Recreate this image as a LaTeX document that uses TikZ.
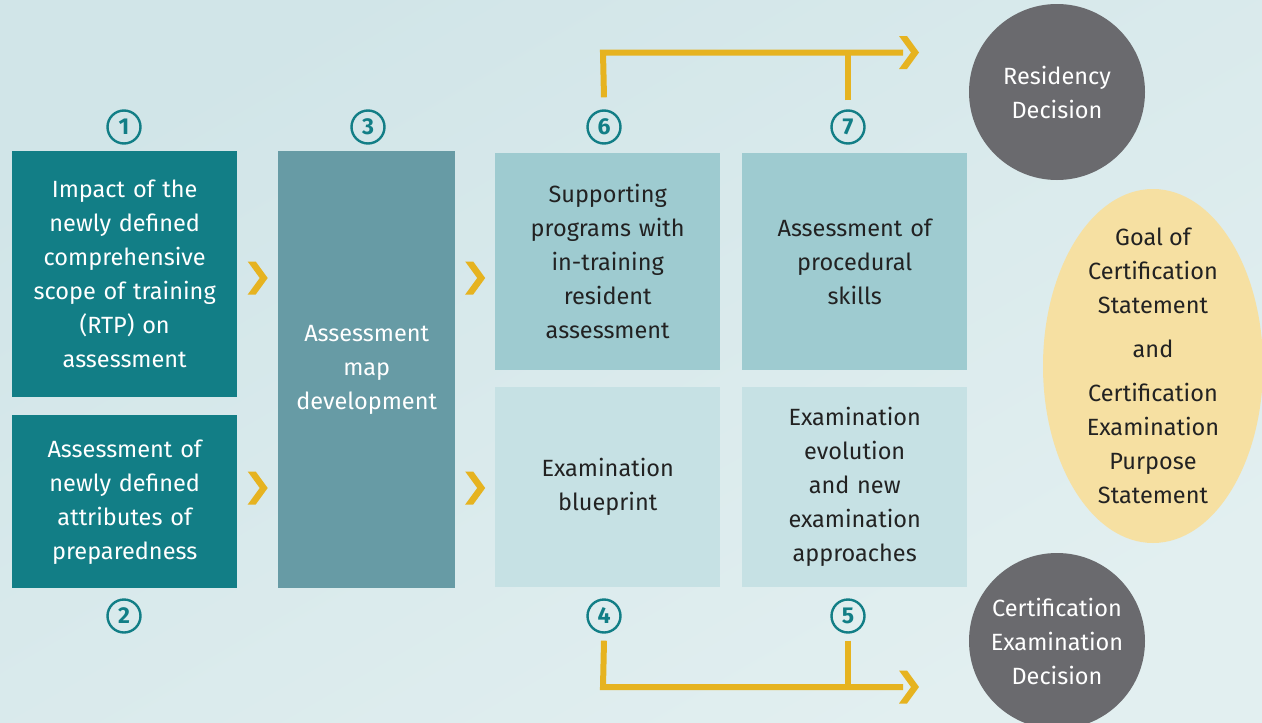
\documentclass[tikz,border=0pt]{standalone}
\usepackage{fontspec}
\setmainfont{Fira Sans}
\usetikzlibrary{calc,shapes.geometric}
\definecolor{bgA}{HTML}{D1E5E8}
\definecolor{bgB}{HTML}{E2EFF0}
\definecolor{tealD}{HTML}{127E86}
\definecolor{tealM}{HTML}{679BA5}
\definecolor{tealL}{HTML}{9ECBD0}
\definecolor{tealXL}{HTML}{C6E1E4}
\definecolor{gold}{HTML}{E6B320}
\definecolor{greyC}{HTML}{6A6A6E}
\definecolor{sand}{HTML}{F6E0A2}
\definecolor{txt}{HTML}{222222}
\tikzset{
  x=1pt,y=-1pt,
  boxbase/.style={anchor=north west,inner sep=0pt,align=center,font=\fontsize{23.5}{34}\selectfont},
  darkbox/.style={boxbase,fill=tealD,text=white},
  midbox/.style={boxbase,fill=tealM,text=white},
  lightbox/.style={boxbase,fill=tealL,text=txt},
  paleshbox/.style={boxbase,fill=tealXL,text=txt},
  numc/.style={circle,draw=tealD,line width=2.4pt,minimum size=33pt,inner sep=0pt,text=tealD,font=\fontsize{23}{23}\selectfont\bfseries},
  greyball/.style={circle,fill=greyC,minimum size=176pt,inner sep=0pt,text=white,align=center,font=\fontsize{23.5}{34}\selectfont},
  goldline/.style={draw=gold,line width=6pt},
}
\newcommand{\chev}[1]{\fill[gold] ($(#1)+(-10,-16.5)$) -- ($(#1)+(-2,-16.5)$) -- ($(#1)+(10,0)$) -- ($(#1)+(-2,16.5)$) -- ($(#1)+(-10,16.5)$) -- ($(#1)+(2,0)$) -- cycle;}
\begin{document}
\begin{tikzpicture}
\shade[top color=bgA,bottom color=bgB,shading angle=30] (0,0) rectangle (1262,723);
\useasboundingbox (0,0) rectangle (1262,723);
% boxes
\node[darkbox,minimum width=225pt,minimum height=246pt,text width=215pt] (b1) at (12,151) {Impact of the\\newly defined\\comprehensive\\scope of training\\(RTP) on\\assessment};
\node[darkbox,minimum width=225pt,minimum height=173pt,text width=215pt] (b2) at (12,415) {Assessment of\\newly defined\\attributes of\\preparedness};
\node[midbox,minimum width=177pt,minimum height=437pt,text width=170pt] (b3) at (278,151) {Assessment\\map\\development};
\node[lightbox,minimum width=225pt,minimum height=217pt,text width=215pt] (b6) at (495,153) {Supporting\\programs with\\in-training\\resident\\assessment};
\node[lightbox,minimum width=225pt,minimum height=217pt,text width=215pt] (b7) at (742,153) {Assessment of\\procedural\\skills};
\node[paleshbox,minimum width=225pt,minimum height=200pt,text width=215pt] (b4) at (495,387) {Examination\\blueprint};
\node[paleshbox,minimum width=225pt,minimum height=200pt,text width=215pt] (b5) at (742,387) {Examination\\evolution\\and new\\examination\\approaches};
% numbers
\node[numc] (n1) at (124,127) {1};
\node[numc] (n3) at (368,127) {3};
\node[numc] (n6) at (604,127) {6};
\node[numc] (n7) at (848,127) {7};
\node[numc] (n2) at (124,616) {2};
\node[numc] (n4) at (604,616) {4};
\node[numc] (n5) at (848,616) {5};
% chevrons between boxes
\chev{$(b1.east |- 0,278)!0.5!(b3.west |- 0,278)$}
\chev{$(b2.east |- 0,488)!0.5!(b3.west |- 0,488)$}
\chev{$(b3.east |- 0,278)!0.5!(b6.west |- 0,278)$}
\chev{$(b3.east |- 0,488)!0.5!(b4.west |- 0,488)$}
% outcome nodes
\node[greyball] (rd) at (1057,92) {Residency\\Decision};
\node[greyball] (cd) at (1057,641) {Certification\\Examination\\Decision};
\node[ellipse,fill=sand,minimum width=220pt,minimum height=354pt,inner sep=0pt] (goal) at (1153,366) {};
\node[align=center,text=txt,inner sep=0pt,font=\fontsize{23.5}{34}\selectfont] (goaltext) at (goal.center) {Goal of\\Certification\\Statement\\[10pt]and\\[10pt]Certification\\Examination\\Purpose\\Statement};
% gold arrows
\coordinate (topend) at (903,52.5);
\coordinate (botend) at (903,687);
\draw[goldline] ($(n6.north)+(0,-12)$) -- (603,52.5) -- (topend);
\draw[goldline] ($(n7.north)+(0,-9)$) -- (n7.north |- topend);
\draw[goldline] ($(n4.south)+(0,7)$) -- (603,687) -- (botend);
\draw[goldline] ($(n5.south)+(0,7)$) -- (n5.south |- botend);
\chev{$(topend)+(6,0)$}
\chev{$(botend)+(6,0)$}
\end{tikzpicture}
\end{document}
